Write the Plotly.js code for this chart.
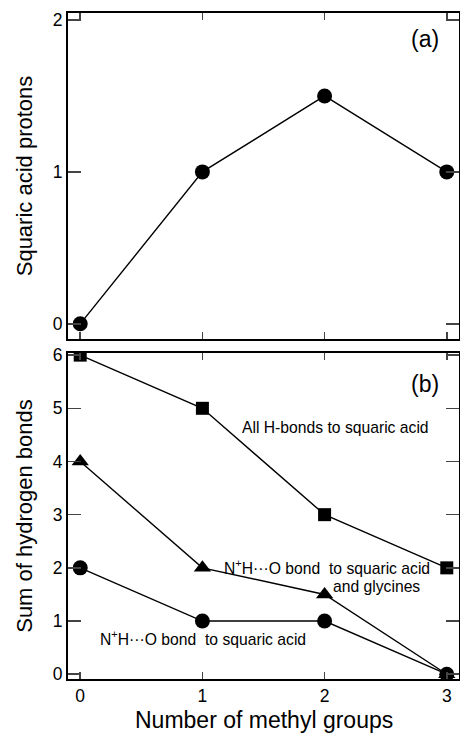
<!DOCTYPE html>
<html><head><meta charset="utf-8">
<script src="https://cdn.plot.ly/plotly-3.0.1.min.js"></script>
<style>html,body{margin:0;padding:0;background:#fff}#chart{width:460px;height:734px}</style>
</head><body><div id="chart"></div>
<script>
var methylGroups = [0, 1, 2, 3];
var squaricProtons = [0, 1, 1.5, 1];
var allHBonds = [6, 5, 3, 2];
var nhoSquaricGlycine = [4, 2, 1.5, 0];
var nhoSquaric = [2, 1, 1, 0];
var ticksA = [0, 1, 2];
var ticksB = [0, 1, 2, 3, 4, 5, 6];
var ticksX = [0, 1, 2, 3];

var FONT = 'Liberation Sans, Arial, sans-serif';
var line = {color: '#000', width: 1.4};

var traces = [
  {x: methylGroups, y: squaricProtons, xaxis: 'x2', yaxis: 'y2', mode: 'lines+markers',
   line: line, marker: {symbol: 'circle', size: 15, color: '#000'}},
  {x: methylGroups, y: allHBonds, xaxis: 'x', yaxis: 'y', mode: 'lines+markers',
   line: line, marker: {symbol: 'square', size: 13, color: '#000'}},
  {x: methylGroups, y: nhoSquaricGlycine, xaxis: 'x', yaxis: 'y', mode: 'lines+markers',
   line: line, marker: {symbol: 'triangle-up', size: 15, color: '#000'}},
  {x: methylGroups, y: nhoSquaric, xaxis: 'x', yaxis: 'y', mode: 'lines+markers',
   line: line, marker: {symbol: 'circle', size: 15, color: '#000'}}
];

function xax(extra) {
  return Object.assign({range: [-0.1, 3.1], tickvals: ticksX, ticks: 'inside', ticklen: 7, tickwidth: 1.5,
    showline: true, linewidth: 2, linecolor: '#000', mirror: 'ticks', showgrid: false, zeroline: false,
    tickfont: {family: FONT, size: 17.5, color: '#000'}}, extra);
}
function yax(extra) {
  return Object.assign({ticks: 'inside', ticklen: 13, tickwidth: 1.5,
    showline: true, linewidth: 2, linecolor: '#000', mirror: 'ticks', showgrid: false, zeroline: false,
    tickfont: {family: FONT, size: 17.5, color: '#000'}}, extra);
}

var layout = {
  width: 460, height: 734,
  margin: {l: 68, r: 1, t: 13, b: 55},
  showlegend: false,
  paper_bgcolor: '#fff', plot_bgcolor: '#fff',
  font: {family: FONT, color: '#000'},
  xaxis: xax({anchor: 'y'}),
  yaxis: yax({domain: [0, 0.4895], range: [-0.09, 6.04], tickvals: ticksB,
    title: {text: 'Sum of hydrogen bonds', font: {family: FONT, size: 22}, standoff: 14}}),
  xaxis2: xax({anchor: 'y2', showticklabels: false}),
  yaxis2: yax({domain: [0.5105, 1], range: [-0.1, 2.046], tickvals: ticksA,
    title: {text: 'Squaric acid protons', font: {family: FONT, size: 22}, standoff: 14}}),
  annotations: [
    {xref: 'x domain', yref: 'paper', x: 0.5, y: -0.062, text: 'Number of methyl groups', showarrow: false,
     xanchor: 'center', yanchor: 'middle', font: {family: FONT, size: 23}},
    {xref: 'x2 domain', yref: 'y2 domain', x: 0.955, y: 0.92, text: '(a)', showarrow: false,
     xanchor: 'right', yanchor: 'middle', font: {family: FONT, size: 23}},
    {xref: 'x domain', yref: 'y domain', x: 0.955, y: 0.905, text: '(b)', showarrow: false,
     xanchor: 'right', yanchor: 'middle', font: {family: FONT, size: 23}},
    {xref: 'x', yref: 'y', x: 1.304, y: 4.63, text: 'All H-bonds to squaric acid', showarrow: false,
     xanchor: 'left', yanchor: 'middle', font: {family: FONT, size: 15.7}},
    {xref: 'x', yref: 'y', x: 1.162, y: 2.02, text: 'N<sup>+</sup>H\u00b7\u00b7\u00b7O bond\u00a0 to squaric acid', showarrow: false,
     xanchor: 'left', yanchor: 'middle', font: {family: FONT, size: 15.7}},
    {xref: 'x', yref: 'y', x: 2.05, y: 1.64, text: 'and glycines', showarrow: false,
     xanchor: 'left', yanchor: 'middle', font: {family: FONT, size: 15.7}},
    {xref: 'x', yref: 'y', x: 0.147, y: 0.69, text: 'N<sup>+</sup>H\u00b7\u00b7\u00b7O bond\u00a0 to squaric acid', showarrow: false,
     xanchor: 'left', yanchor: 'middle', font: {family: FONT, size: 15.7}}
  ]
};

Plotly.newPlot('chart', traces, layout, {displayModeBar: false, staticPlot: true});
</script>
</body></html>
